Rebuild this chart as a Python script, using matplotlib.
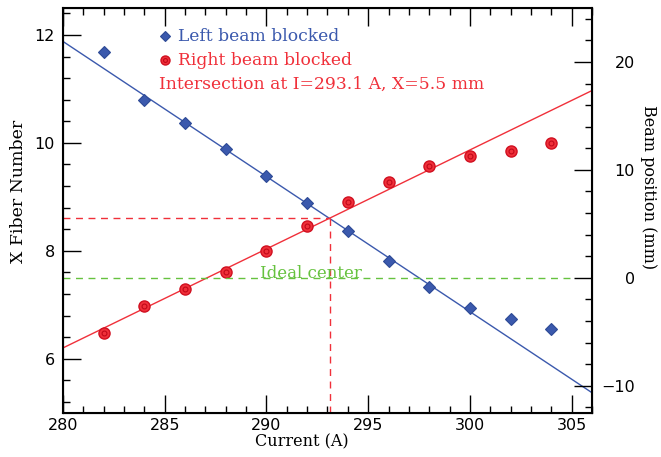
import matplotlib.pyplot as plt
from matplotlib.ticker import MultipleLocator

# measured beam centre (fiber number) vs magnet current
current = [282, 284, 286, 288, 290, 292, 294, 296, 298, 300, 302, 304]
left_blocked = [11.69, 10.80, 10.36, 9.88, 9.38, 8.88, 8.36, 7.82, 7.32, 6.94, 6.73, 6.55]
right_blocked = [6.47, 6.97, 7.30, 7.61, 7.99, 8.46, 8.90, 9.28, 9.58, 9.75, 9.85, 10.00]

# straight-line fits, evaluated at the ends of the current range
fit_current = [280, 306]
left_fit = [11.88, 5.37]
right_fit = [6.20, 10.97]

# intersection and ideal centre
cross_current = 293.1
cross_fiber = 8.6
ideal_fiber = 7.5
ideal_range = [280, 305]

blue = '#3b59ad'
red = '#f0303a'
green = '#66c23f'

serif = 'DejaVu Serif'
dash = (0, (5, 4))

fig = plt.figure(figsize=(6.61, 4.57), dpi=100)
ax = fig.add_axes([0.0953, 0.097, 0.8003, 0.8855])

ax.plot(fit_current, left_fit, color=blue, lw=1)
ax.plot(fit_current, right_fit, color=red, lw=1)

ax.plot(current, left_blocked, 'D', ms=6, mfc=blue, mec='#2e4a96', mew=0.8, ls='none')
ax.plot(current, right_blocked, 'o', ms=8, mfc=red, mec='#d01020', mew=1.0, ls='none')
ax.plot(current, right_blocked, 'o', ms=3.5, mfc='none', mec='#c00818', mew=0.8, ls='none')

# intersection guides
ax.plot([280, cross_current], [cross_fiber, cross_fiber], color=red, lw=1, ls=dash)
ax.plot([cross_current, cross_current], [5, cross_fiber], color=red, lw=1, ls=dash)
ax.plot(ideal_range, [ideal_fiber, ideal_fiber], color=green, lw=1, ls=dash)
ax.text(289.7, ideal_fiber, 'Ideal center', color=green, fontsize=12,
        family=serif, va='baseline', ha='left')

# legend-like annotations
ax.plot([285.0], [11.98], 'D', ms=5, mfc=blue, mec='#2e4a96', mew=0.8)
ax.text(285.65, 11.98, 'Left beam blocked', color=blue, fontsize=12.3, family=serif, va='center')
ax.plot([285.0], [11.53], 'o', ms=6.5, mfc=red, mec='#d01020', mew=1.0)
ax.plot([285.0], [11.53], 'o', ms=2.8, mfc='none', mec='#c00818', mew=0.8)
ax.text(285.65, 11.53, 'Right beam blocked', color=red, fontsize=12.3, family=serif, va='center')
ax.text(284.7, 11.09, 'Intersection at I=293.1 A, X=5.5 mm', color=red, fontsize=12.3,
        family=serif, va='center')

ax.set_xlim(280, 306)
ax.set_ylim(5, 12.5)
ax.xaxis.set_major_locator(MultipleLocator(5))
ax.xaxis.set_minor_locator(MultipleLocator(1))
ax.yaxis.set_major_locator(MultipleLocator(2))
ax.yaxis.set_minor_locator(MultipleLocator(0.4))
ax.tick_params(which='both', direction='in', top=True, right=False, labelsize=11.5, width=1)
ax.tick_params(which='major', length=13)
ax.tick_params(which='minor', length=5)
ax.tick_params(axis='x', pad=3.5)
ax.tick_params(axis='y', pad=6)
for s in ax.spines.values():
    s.set_linewidth(1.5)
ax.set_xlabel('Current (A)', family=serif, fontsize=11.5, ha='center', va='center')
ax.xaxis.set_label_coords(0.452, -0.073)
ax.set_ylabel('X Fiber Number', family=serif, fontsize=12.5, ha='center', va='center')
ax.yaxis.set_label_coords(-0.085, 0.546)

# right axis in mm: (fiber - 7.5) * 5
ax2 = ax.twinx()
ax2.set_ylim((5 - ideal_fiber) * 5, (12.5 - ideal_fiber) * 5)
ax2.yaxis.set_major_locator(MultipleLocator(10))
ax2.yaxis.set_minor_locator(MultipleLocator(2))
ax2.tick_params(which='both', direction='in', labelsize=11.5, width=1, pad=31)
ax2.tick_params(which='major', length=13)
ax2.tick_params(which='minor', length=5)
for lab in ax2.get_yticklabels():
    lab.set_horizontalalignment('right')
ax2.set_ylabel('Beam position (mm)', family=serif, fontsize=11.5, rotation=-90,
               ha='center', va='center')
ax2.yaxis.set_label_coords(1.106, 0.558)

fig.savefig('out.png', dpi=100)
